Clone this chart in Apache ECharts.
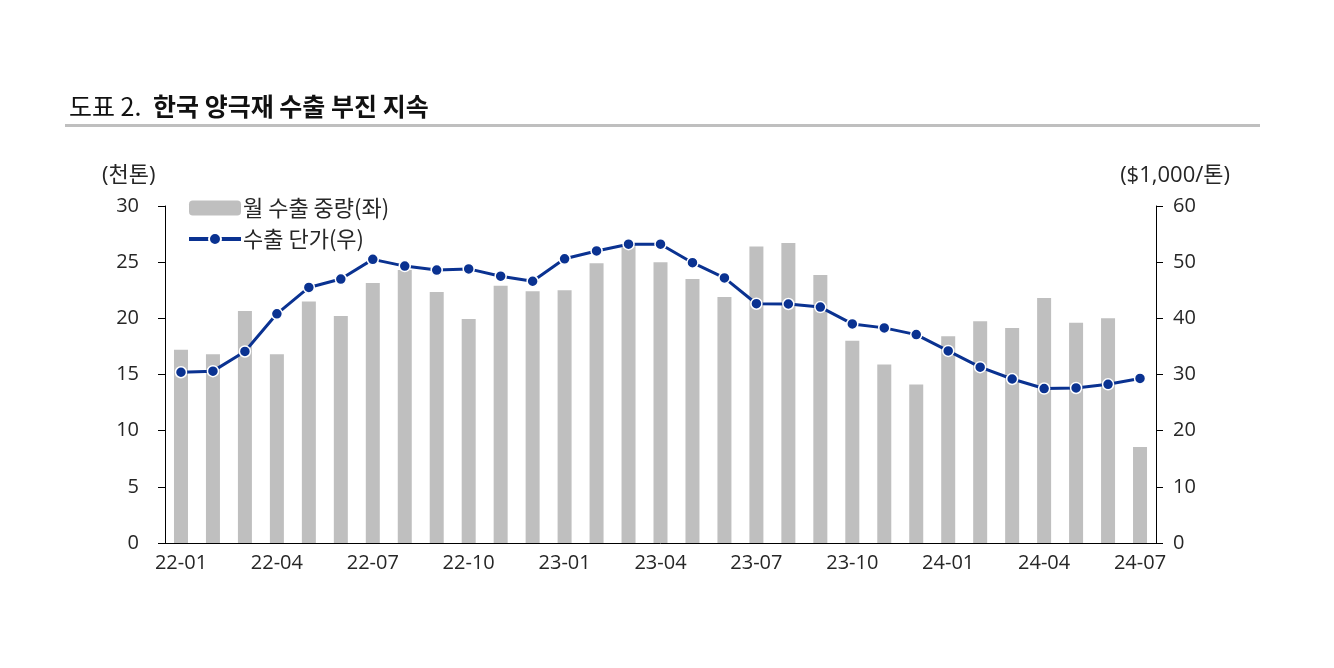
<!DOCTYPE html>
<html><head><meta charset="utf-8">
<script src="https://cdn.jsdelivr.net/npm/echarts@6/dist/echarts.min.js"></script>
<style>html,body{margin:0;padding:0;background:#fff}#c{width:1334px;height:668px}</style>
</head><body><div id="c"></div>
<script>
const categories = ['22-01','22-02','22-03','22-04','22-05','22-06','22-07','22-08','22-09','22-10','22-11','22-12',
  '23-01','23-02','23-03','23-04','23-05','23-06','23-07','23-08','23-09','23-10','23-11','23-12',
  '24-01','24-02','24-03','24-04','24-05','24-06','24-07'];
const volume = [17.2,16.8,20.65,16.8,21.5,20.2,23.15,24.3,22.35,19.95,22.9,22.4,
  22.5,24.9,26.5,25.0,23.5,21.9,26.4,26.7,23.85,18.0,15.9,14.1,
  18.4,19.75,19.15,21.8,19.6,20.0,8.55];
const price = [30.4,30.6,34.1,40.8,45.5,47.0,50.5,49.3,48.6,48.8,47.5,46.6,
  50.6,52.0,53.2,53.2,49.9,47.2,42.6,42.55,42.0,39.0,38.3,37.1,
  34.2,31.3,29.2,27.5,27.6,28.25,29.3];
const seriesNames = ['월 수출 중량(좌)','수출 단가(우)'];
const titleLight = '도표 2.';
const titleBold = '한국 양극재 수출 부진 지속';
const leftUnit = '(천톤)';
const rightUnit = '($1,000/톤)';

const FONT = '"Noto Sans CJK KR", "Noto Sans", sans-serif';
const NUMFONT = '"Open Sans", "Noto Sans CJK KR", sans-serif';
const TXT = '#262626';
const NAVY = '#0a3291';
const chart = echarts.init(document.getElementById('c'));
chart.setOption({
  animation: false,
  textStyle: {fontFamily: FONT},
  graphic: [
    {type:'text', left:69, top:94, style:{text:titleLight, font:'25px '+FONT, fill:'#111'}},
    {type:'text', left:153, top:94, style:{text:titleBold, font:'bold 25px '+FONT, fill:'#111'}},
    {type:'rect', left:65, top:124, shape:{width:1195, height:3}, style:{fill:'#bfbfbf'}},
    {type:'text', left:102, top:165, style:{text:leftUnit, font:'22px '+NUMFONT, fill:TXT}},
    {type:'text', right:104, top:165, style:{text:rightUnit, font:'22px '+NUMFONT, fill:TXT}}
  ],
  legend: {
    left: 182, top: 192, orient: 'vertical', itemWidth: 52, itemHeight: 15, itemGap: 9,
    textStyle: {fontSize: 22, color: TXT, fontFamily: FONT, padding: [0,0,0,-3]},
    data: [
      {name: seriesNames[0], icon: 'roundRect'},
      {name: seriesNames[1], lineStyle: {width: 4, color: NAVY}}
    ]
  },
  grid: {left: 165, right: 178, top: 206, bottom: 125, containLabel: false},
  xAxis: {
    type: 'category', data: categories, boundaryGap: true,
    axisLine: {lineStyle: {color: '#000', width: 1}},
    axisTick: {interval: 2, length: 6, lineStyle: {color: '#000'}},
    axisLabel: {interval: 2, fontSize: 20, color: TXT, margin: 10, fontFamily: NUMFONT}
  },
  yAxis: [
    {type: 'value', min: 0, max: 30, interval: 5, splitLine: {show: false},
      axisLine: {show: true, lineStyle: {color: '#000'}},
      axisTick: {show: true, length: 7, lineStyle: {color: '#000'}},
      axisLabel: {fontSize: 20, color: TXT, margin: 26, fontFamily: NUMFONT}},
    {type: 'value', min: 0, max: 60, interval: 10, splitLine: {show: false},
      axisLine: {show: true, lineStyle: {color: '#000'}},
      axisTick: {show: true, length: 7, lineStyle: {color: '#000'}},
      axisLabel: {fontSize: 20, color: TXT, margin: 17, fontFamily: NUMFONT}}
  ],
  series: [
    {name: seriesNames[0], type: 'bar', data: volume, yAxisIndex: 0, barWidth: 14,
      itemStyle: {color: '#bfbfbf'}},
    {name: seriesNames[1], type: 'line', data: price, yAxisIndex: 1,
      symbol: 'circle', symbolSize: 11,
      lineStyle: {color: NAVY, width: 3},
      itemStyle: {color: NAVY, borderColor: '#fff', borderWidth: 1.5}}
  ]
});
</script></body></html>
